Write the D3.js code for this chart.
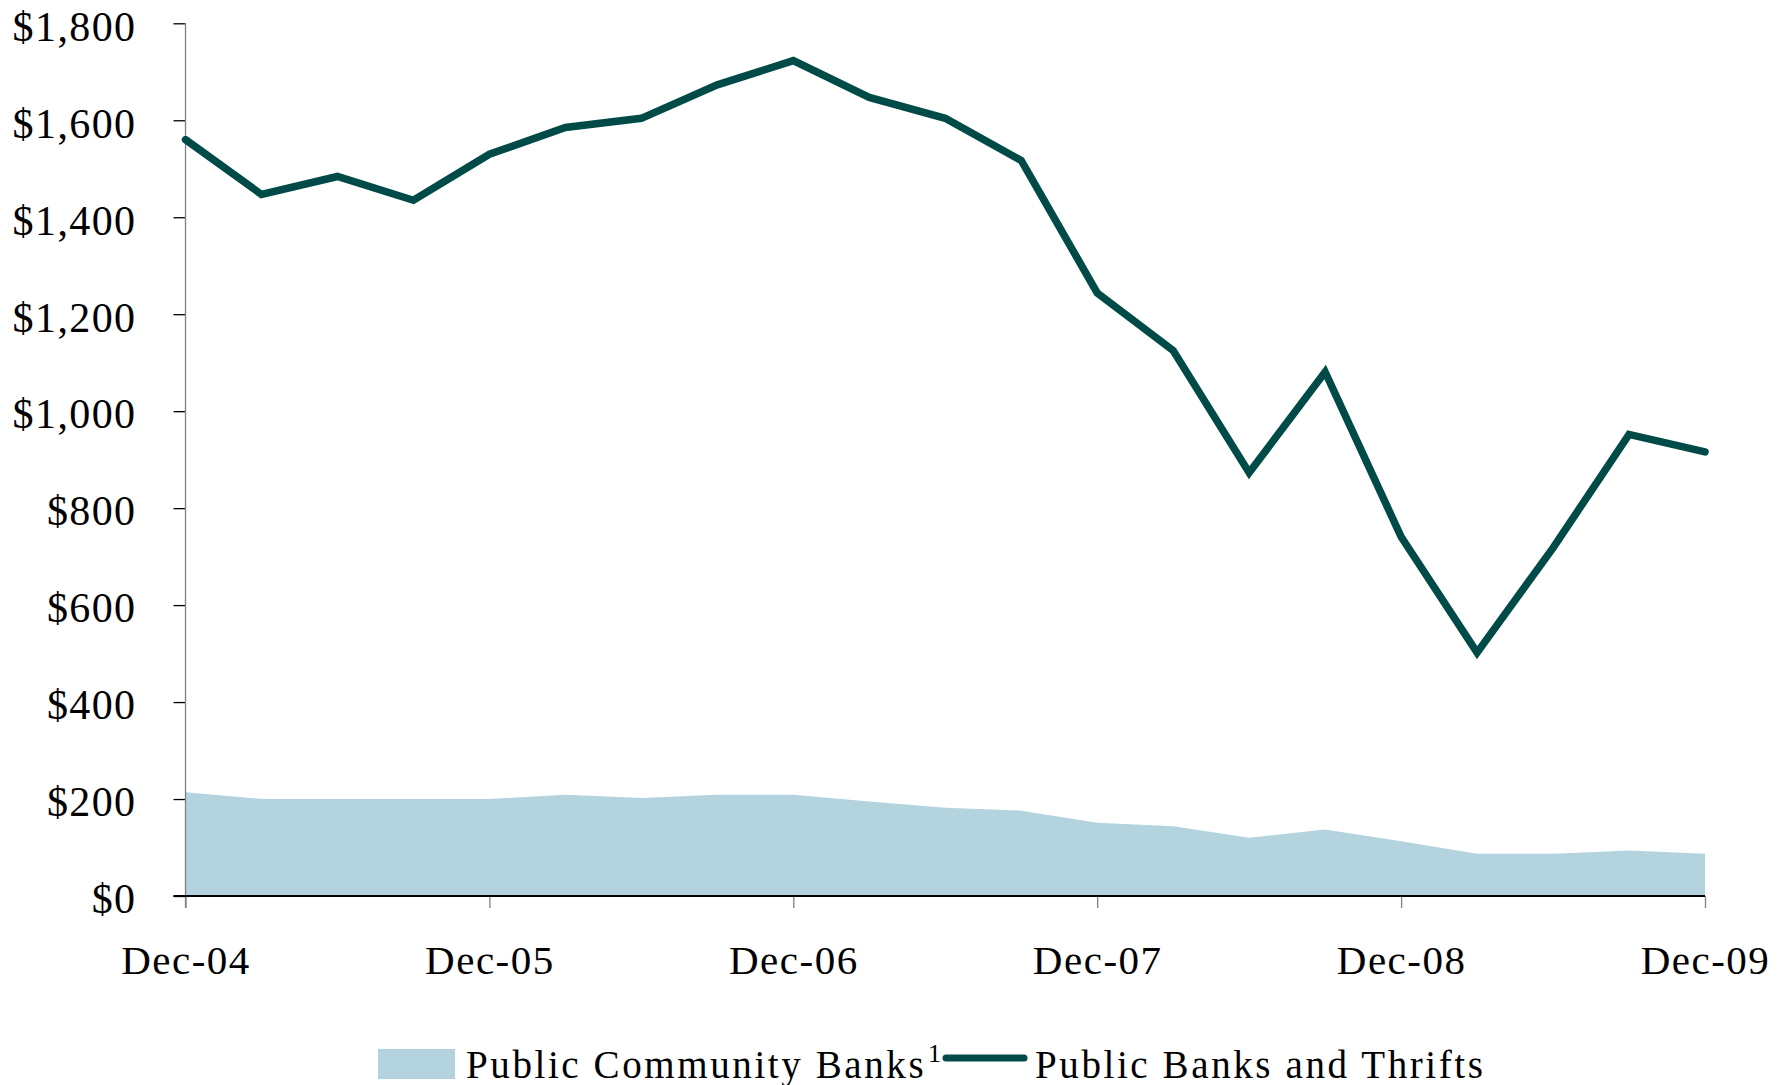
<!DOCTYPE html>
<html>
<head>
<meta charset="utf-8">
<script src="https://cdn.jsdelivr.net/npm/d3@7/dist/d3.min.js"></script>
<style>
  html, body { margin: 0; padding: 0; background: #ffffff; }
  svg { display: block; }
  text { font-family: "Liberation Serif", "DejaVu Serif", serif; fill: #000; }
</style>
</head>
<body>
<svg id="chart" width="1792" height="1085"></svg>
<script>
// Quarter-end dates, Dec-04 through Dec-09
const quarters = [
  "Dec-04", "Mar-05", "Jun-05", "Sep-05",
  "Dec-05", "Mar-06", "Jun-06", "Sep-06",
  "Dec-06", "Mar-07", "Jun-07", "Sep-07",
  "Dec-07", "Mar-08", "Jun-08", "Sep-08",
  "Dec-08", "Mar-09", "Jun-09", "Sep-09",
  "Dec-09"
];

// Public Community Banks (area)
const communityBanks = [214, 200, 200, 200, 200, 209, 202, 209, 209, 195, 182,
                        176, 151, 144, 120, 137, 113, 87, 87, 94, 87];

// Public Banks and Thrifts (line)
const banksAndThrifts = [1560, 1447, 1484, 1435, 1530, 1585, 1604, 1673, 1723, 1647, 1604,
                         1517, 1244, 1125, 873, 1081, 741, 502, 718, 952, 916];

// Labelled year-end ticks
const xTickLabels = ["Dec-04", "Dec-05", "Dec-06", "Dec-07", "Dec-08", "Dec-09"];
const yTickValues = [0, 200, 400, 600, 800, 1000, 1200, 1400, 1600, 1800];

const seriesNames = ["Public Community Banks", "Public Banks and Thrifts"];

const svg = d3.select("#chart");

const plot = { left: 185.5, right: 1705, top: 23.3, bottom: 896 };

const x = d3.scalePoint()
  .domain(quarters)
  .range([plot.left, plot.right])
  .padding(0);

const y = d3.scaleLinear()
  .domain([0, 1800])
  .range([plot.bottom, plot.top]);

const areaColor = "#b3d3df";
const lineColor = "#004b47";

// Area for community banks
const area = d3.area()
  .x((d, i) => x(quarters[i]))
  .y0(y(0))
  .y1(d => y(d));

svg.append("path")
  .datum(communityBanks)
  .attr("d", area)
  .attr("fill", areaColor);

// Y axis
const fmt = d3.format(",");
const yAxis = svg.append("g")
  .attr("transform", `translate(${plot.left},0)`)
  .call(d3.axisLeft(y)
    .tickValues(yTickValues)
    .tickSize(12)
    .tickPadding(37)
    .tickFormat(d => "$" + fmt(d)));

yAxis.select(".domain").remove();
yAxis.append("line")
  .attr("x1", 0).attr("x2", 0)
  .attr("y1", plot.top).attr("y2", plot.bottom + 12)
  .attr("stroke", "#808080").attr("stroke-width", 1.3);
yAxis.selectAll(".tick line").attr("stroke", "#000").attr("stroke-width", 1.3);
yAxis.selectAll(".tick text")
  .attr("font-size", 42)
  .attr("letter-spacing", 1.4)
  .attr("dy", "0.4em")
  .style("font-family", "'Liberation Serif', serif");

// X axis
const xAxis = svg.append("g")
  .attr("transform", `translate(0,${plot.bottom})`)
  .call(d3.axisBottom(x)
    .tickValues(xTickLabels)
    .tickSize(12)
    .tickPadding(0));

xAxis.select(".domain").remove();
xAxis.append("line")
  .attr("x1", plot.left - 12).attr("x2", plot.right)
  .attr("y1", 0).attr("y2", 0)
  .attr("stroke", "#000").attr("stroke-width", 2);
xAxis.selectAll(".tick line").attr("stroke", "#808080").attr("stroke-width", 1.3);
xAxis.selectAll(".tick text")
  .attr("font-size", 41)
  .attr("letter-spacing", 1.5)
  .attr("y", 78)
  .attr("dy", 0)
  .style("font-family", "'Liberation Serif', serif");

// Line for banks and thrifts
const line = d3.line()
  .x((d, i) => x(quarters[i]))
  .y(d => y(d));

svg.append("path")
  .datum(banksAndThrifts)
  .attr("d", line)
  .attr("fill", "none")
  .attr("stroke", lineColor)
  .attr("stroke-width", 7.5)
  .attr("stroke-linejoin", "miter")
  .attr("stroke-linecap", "round");

// Legend
const legend = svg.append("g").attr("class", "legend");

legend.append("rect")
  .attr("x", 378).attr("y", 1049)
  .attr("width", 77).attr("height", 30)
  .attr("fill", areaColor);

legend.append("text")
  .attr("x", 466).attr("y", 1078)
  .attr("font-size", 39)
  .attr("letter-spacing", 2.6)
  .text(seriesNames[0]);

legend.append("text")
  .attr("x", 928).attr("y", 1062)
  .attr("font-size", 26)
  .text("1");

legend.append("line")
  .attr("x1", 946).attr("x2", 1024)
  .attr("y1", 1058).attr("y2", 1058)
  .attr("stroke", lineColor)
  .attr("stroke-width", 7)
  .attr("stroke-linecap", "round");

legend.append("text")
  .attr("x", 1035).attr("y", 1078)
  .attr("font-size", 39)
  .attr("letter-spacing", 2.6)
  .text(seriesNames[1]);
</script>
</body>
</html>
